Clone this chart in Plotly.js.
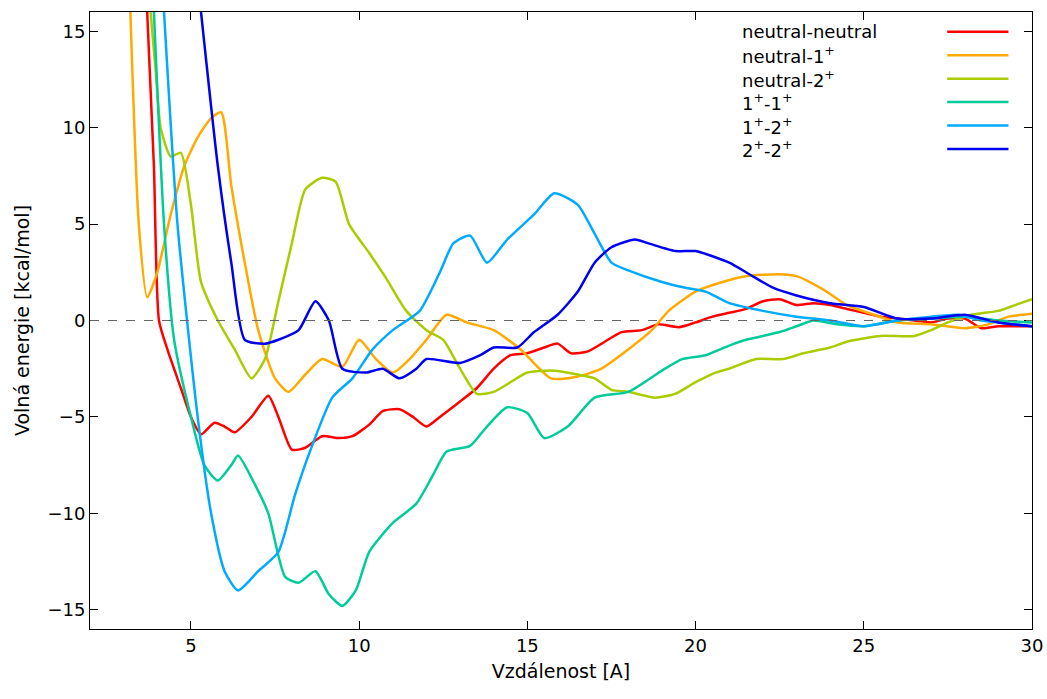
<!DOCTYPE html>
<html><head><meta charset="utf-8">
<script src="https://cdn.plot.ly/plotly-3.0.1.min.js"></script>
<style>body{margin:0}#c{width:1047px;height:699px}</style></head>
<body><div id="c"></div>
<script>
const names=["neutral-neutral","neutral-1<sup>+</sup>","neutral-2<sup>+</sup>","1<sup>+</sup>-1<sup>+</sup>","1<sup>+</sup>-2<sup>+</sup>","2<sup>+</sup>-2<sup>+</sup>"];
const colors=["#ff0000","#ffaa00","#aacc00","#00cc99","#00aaff","#0000ee"];
const nnX=[3.7,3.9,4.05,4.3,4.7,5.0,5.3,5.7,6.0,6.3,6.8,7.3,7.6,8.0,8.4,8.9,9.4,9.8,10.3,10.7,11.2,11.6,12.0,12.4,13,13.5,14,14.5,15,15.5,15.9,16.3,16.8,17.3,17.8,18.4,18.9,19.5,20,20.5,21,21.5,22,22.5,23,23.5,24,24.5,25,25.5,26,26.5,27,27.5,28,28.5,29,29.5,30];
const nnY=[16,8,0,-1.5,-3.5,-5,-5.9,-5.3,-5.5,-5.8,-5,-3.9,-5,-6.7,-6.6,-6,-6.1,-6,-5.4,-4.7,-4.6,-5,-5.5,-5,-4.2,-3.5,-2.5,-1.8,-1.7,-1.4,-1.2,-1.7,-1.6,-1.1,-0.6,-0.5,-0.2,-0.35,-0.1,0.2,0.4,0.6,1.0,1.1,0.8,0.9,0.8,0.6,0.4,0.2,0.1,0.0,-0.1,0.1,0.1,-0.4,-0.3,-0.3,-0.3];
const n1X=[3.2,3.45,3.7,4.0,4.4,4.8,5.2,5.6,5.9,6.2,6.6,7.0,7.5,7.9,8.4,8.9,9.5,10,10.5,11,11.5,12,12.6,13.2,14,14.8,15.7,16.5,17.2,18,18.7,19.2,20,20.8,21.5,22.5,23,23.8,24.5,25.3,26,27,28,28.7,29.3,30];
const n1Y=[16,5,1.2,2.5,5.5,8,9.5,10.5,10.8,7,3,-0.5,-3,-3.7,-2.8,-2,-2.4,-1,-2,-2.7,-2,-1,0.3,-0.1,-0.5,-1.5,-3,-2.9,-2.5,-1.5,-0.5,0.5,1.5,2,2.3,2.4,2.3,1.6,0.8,0.3,-0.1,-0.2,-0.4,-0.2,0.2,0.35];
const n2X=[3.8,3.95,4.1,4.4,4.7,5.0,5.3,5.8,6.3,6.8,7.2,7.6,8.0,8.4,8.9,9.3,9.7,10.3,10.8,11.4,12,12.5,13,13.5,14,14.5,15,15.8,16.5,17,17.5,18,18.8,19.4,20,20.6,21,21.8,22.6,23.2,24,24.5,25.5,26.5,27,27.5,28.2,29,29.5,30];
const n2Y=[16,13,10,8.5,8.7,6,2,0,-1.5,-3,-2,1,4,6.8,7.4,7.2,5,3.5,2.2,0.5,-0.5,-1,-2.5,-3.8,-3.7,-3.2,-2.7,-2.6,-2.8,-3,-3.6,-3.7,-4,-3.8,-3.2,-2.7,-2.5,-2,-2,-1.7,-1.4,-1.1,-0.8,-0.8,-0.5,-0.1,0.3,0.5,0.8,1.1];
const p11X=[3.9,4.2,4.5,5.0,5.4,5.8,6.2,6.4,6.9,7.3,7.8,8.2,8.7,9.1,9.5,9.9,10.3,11,11.7,12.2,12.6,13.3,13.8,14.4,15,15.5,16.2,17,18,19,19.6,20.3,21,21.5,22.5,23,23.5,24.2,25,26,27,28,29,30];
const p11Y=[16,5,-1,-5,-7.5,-8.3,-7.5,-7,-8.5,-10,-13.3,-13.6,-13,-14.2,-14.8,-14,-12,-10.5,-9.5,-8,-6.8,-6.5,-5.5,-4.5,-4.8,-6.1,-5.5,-4,-3.7,-2.6,-2,-1.8,-1.3,-1,-0.6,-0.3,0,-0.2,-0.3,0,0.1,0.2,0,-0.1];
const p12X=[4.2,4.6,5.2,5.6,6.0,6.4,7.0,7.6,8.1,8.6,9.2,9.8,10.4,11,11.8,12.4,12.8,13.3,13.8,14.4,15.2,15.8,16.5,17,17.5,18,19,19.7,20.3,21,22,23,24,25,26,27,27.8,28.5,29.5,30];
const p12Y=[16,5,-5,-10,-13,-14,-13,-12,-9,-6.5,-4,-3,-1.5,-0.5,0.5,2.5,4,4.4,3,4.2,5.5,6.6,6,4.5,3,2.6,2,1.7,1.5,0.9,0.5,0.2,0,-0.3,0,0.2,0.3,0,-0.2,-0.3];
const p22X=[5.3,5.8,6.2,6.6,7.2,7.6,8.2,8.7,9.1,9.5,10.2,10.7,11.2,11.7,12,13,13.6,14,14.7,15.2,15.9,16.5,17,17.5,18.2,18.6,19.4,20,21,21.6,22.3,23,24,25,26,27,28,29,30];
const p22Y=[16,8,3,-1,-1.2,-1,-0.5,1,0,-2.5,-2.7,-2.5,-3,-2.5,-2,-2.2,-1.8,-1.4,-1.4,-0.6,0.3,1.5,3,3.8,4.2,4,3.6,3.6,3,2.4,1.7,1.3,0.9,0.7,0.1,0.1,0.3,-0.1,-0.3];
const xs=[nnX,n1X,n2X,p11X,p12X,p22X], ys=[nnY,n1Y,n2Y,p11Y,p12Y,p22Y];
const data=xs.map((x,i)=>({x:x,y:ys[i],type:'scatter',mode:'lines',line:{color:colors[i],width:2.5,shape:'spline',smoothing:0.6},showlegend:false}));
const shapes=[{type:'line',xref:'x',yref:'y',x0:2,x1:30,y0:0,y1:0,line:{color:'#666',width:1.2,dash:'dash'}}];
const ann=[];
names.forEach((n,i)=>{
  const yp=0.968-i*0.038;
  ann.push({xref:'paper',yref:'paper',x:0.69,y:yp,xanchor:'left',yanchor:'middle',text:n,showarrow:false,font:{size:18,color:'#000'}});
  shapes.push({type:'line',xref:'paper',yref:'paper',x0:0.91,x1:0.975,y0:yp,y1:yp,line:{color:colors[i],width:2.5}});
});
const ax={showline:true,mirror:'ticks',linecolor:'#000',linewidth:1,ticks:'inside',ticklen:8,tickcolor:'#000',showgrid:false,zeroline:false,tickfont:{size:18,family:'DejaVu Sans',color:'#000'}};
Plotly.newPlot('c',data,{width:1047,height:699,margin:{l:90,r:15,t:12,b:70},
 paper_bgcolor:'#fff',plot_bgcolor:'#fff',font:{family:'DejaVu Sans',color:'#000'},
 xaxis:Object.assign({},ax,{range:[2,30],tickvals:[5,10,15,20,25,30],title:{text:'Vzdálenost [A]',font:{size:19,color:'#000'},standoff:10}}),
 yaxis:Object.assign({},ax,{range:[-16,16],tickvals:[-15,-10,-5,0,5,10,15],title:{text:'Volná energie [kcal/mol]',font:{size:19,color:'#000'},standoff:12}}),
 shapes:shapes,annotations:ann},{displayModeBar:false});
</script></body></html>
